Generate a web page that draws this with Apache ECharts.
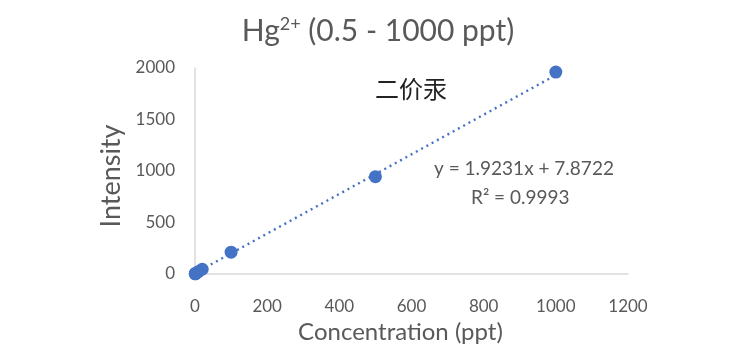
<!DOCTYPE html>
<html>
<head>
<meta charset="utf-8">
<script src="https://cdn.jsdelivr.net/npm/echarts@6/dist/echarts.min.js"></script>
<style>
html,body{margin:0;padding:0;background:#fff;}
#chart{width:756px;height:359px;}
</style>
</head>
<body>
<div id="chart"></div>
<script>
// Data
const concentration = [0.5, 1, 2, 5, 10, 20, 100, 500, 1000];
const intensity = [2, 3, 5, 12, 24, 46, 212, 945, 1960];
const trendX = [0, 1000];
const trendY = [7.87, 1931.0];
const xTicks = [0, 200, 400, 600, 800, 1000, 1200];
const yTicks = [0, 500, 1000, 1500, 2000];
const titleMain = 'Hg';
const titleSup = '2+';
const titleRest = ' (0.5 - 1000 ppt)';
const equationText = 'y = 1.9231x + 7.8722';
const r2Text = 'R² = 0.9993';
const noteText = '二价汞';

const FONT = 'Lato';
const GRAY = '#595959';
const BLUE = '#4472C4';

const chart = echarts.init(document.getElementById('chart'));
chart.setOption({
  backgroundColor: '#fff',
  animation: false,
  title: {
    text: '{m|' + titleMain + '}{s|' + titleSup + '}{m|' + titleRest + '}',
    left: 'center',
    top: 10,
    textStyle: {
      fontWeight: 'normal',
      rich: {
        m: { fontFamily: FONT, fontSize: 30, fontWeight: 'normal', color: GRAY },
        s: { fontFamily: FONT, fontSize: 18, fontWeight: 'normal', color: GRAY, padding: [0, 0, 14, 0] }
      }
    }
  },
  grid: { left: 195, right: 128, top: 68, bottom: 85, containLabel: false },
  xAxis: {
    type: 'value',
    min: xTicks[0],
    max: xTicks[xTicks.length - 1],
    interval: xTicks[1] - xTicks[0],
    name: 'Concentration (ppt)',
    nameLocation: 'middle',
    nameGap: 46,
    nameTextStyle: { fontFamily: FONT, fontSize: 24, color: GRAY, padding: [0, 22, 0, 0] },
    axisLine: { show: true, lineStyle: { color: '#d9d9d9', width: 1.5 } },
    axisTick: { show: false },
    splitLine: { show: false },
    axisLabel: { fontFamily: FONT, fontSize: 17, color: GRAY, margin: 24, formatter: v => String(v) }
  },
  yAxis: {
    type: 'value',
    min: yTicks[0],
    max: yTicks[yTicks.length - 1],
    interval: yTicks[1] - yTicks[0],
    name: 'Intensity',
    nameLocation: 'middle',
    nameGap: 64,
    nameRotate: 90,
    nameTextStyle: { fontFamily: FONT, fontSize: 27, color: GRAY, padding: [0, 10, 0, 0] },
    axisLine: { show: true, lineStyle: { color: '#d9d9d9', width: 1.5 } },
    axisTick: { show: false },
    splitLine: { show: false },
    axisLabel: { fontFamily: FONT, fontSize: 17, color: GRAY, margin: 20, formatter: v => String(v) }
  },
  series: [
    {
      type: 'line',
      data: trendX.map((x, i) => [x, trendY[i]]),
      showSymbol: false,
      symbol: 'none',
      lineStyle: { color: BLUE, width: 2.4, type: [2, 4] },
      z: 2
    },
    {
      type: 'scatter',
      data: concentration.map((x, i) => [x, intensity[i]]),
      symbol: 'circle',
      symbolSize: 13,
      itemStyle: { color: BLUE, opacity: 1 },
      z: 3
    }
  ],
  graphic: [
    {
      type: 'text',
      left: 375,
      top: 77,
      style: { text: noteText, fontFamily: 'Noto Sans CJK SC', fontSize: 24, fill: '#222' }
    },
    {
      type: 'text',
      left: 434,
      top: 159,
      style: { text: equationText, fontFamily: FONT, fontSize: 19, fill: GRAY }
    },
    {
      type: 'text',
      left: 471,
      top: 188,
      style: { text: r2Text, fontFamily: FONT, fontSize: 19, fill: GRAY }
    }
  ]
});
</script>
</body>
</html>
